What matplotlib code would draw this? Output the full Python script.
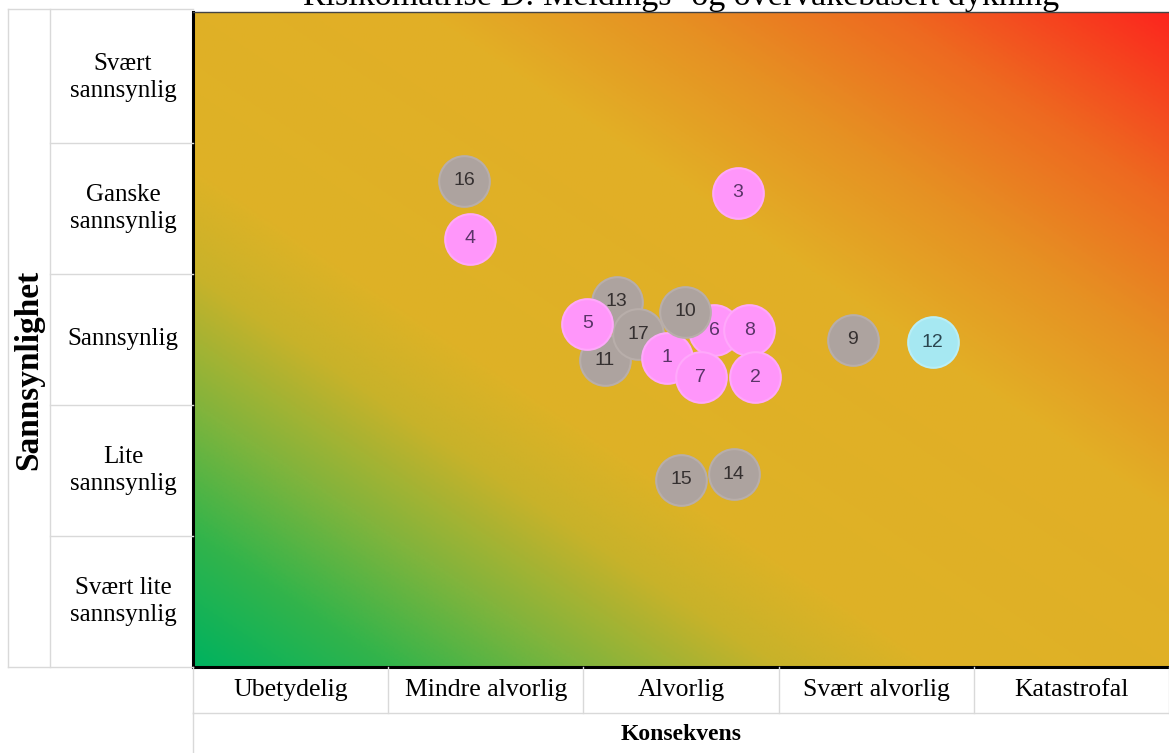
import numpy as np
import matplotlib
matplotlib.use("Agg")
import matplotlib.pyplot as plt
from matplotlib.lines import Line2D
from matplotlib.transforms import blended_transform_factory
from matplotlib.colors import LinearSegmentedColormap

# ---------------- data ----------------
title = "Risikomatrise D: Meldings- og overvåkebasert dykning"
consequence_labels = ["Ubetydelig", "Mindre alvorlig", "Alvorlig", "Svært alvorlig", "Katastrofal"]
likelihood_labels = ["Svært lite\nsannsynlig", "Lite\nsannsynlig", "Sannsynlig",
                     "Ganske\nsannsynlig", "Svært\nsannsynlig"]
x_title = "Konsekvens"
y_title = "Sannsynlighet"

ids = [1, 2, 3, 4, 5, 6, 7, 8, 9, 10, 11, 12, 13, 14, 15, 16, 17]
consequence = [2.43, 2.88, 2.79, 1.42, 2.02, 2.67, 2.60, 2.85, 3.38, 2.52,
               2.11, 3.79, 2.17, 2.77, 2.50, 1.39, 2.28]
likelihood = [2.36, 2.21, 3.62, 3.27, 2.62, 2.57, 2.21, 2.57, 2.50, 2.71,
              2.34, 2.48, 2.79, 1.47, 1.43, 3.71, 2.54]
group = ["A", "A", "A", "A", "A", "A", "A", "A", "B", "B",
         "B", "C", "B", "B", "B", "B", "B"]
draw_order = [16, 4, 3, 13, 11, 17, 5, 1, 6, 8, 10, 7, 2, 9, 12, 15, 14]

# ---------------- styles ----------------
face = {"A": "#FF96FA", "B": "#ADA39F", "C": "#A6E8F2"}
edge = {"A": "#FFA8FB", "B": "#B8AEAA", "C": "#B8EEF6"}
txtc = {"A": "#5A3468", "B": "#353030", "C": "#2A4650"}

W, H = 1169, 753
fig = plt.figure(figsize=(W / 100, H / 100), dpi=100)
fig.patch.set_facecolor("white")

def fx(px):
    return px / W

def fy(py):
    return 1 - py / H

ax_l, ax_r, ax_t, ax_b = 193, 1169, 12, 667
ax = fig.add_axes([fx(ax_l), fy(ax_b), fx(ax_r - ax_l), (ax_b - ax_t) / H])

nx, ny = len(consequence_labels), len(likelihood_labels)
ax.set_xlim(0, nx)
ax.set_ylim(0, ny)

# diagonal gradient background
stops = [(0.00, (0, 178, 95)), (0.10, (50, 180, 75)), (0.20, (130, 180, 60)),
         (0.30, (200, 178, 42)), (0.38, (222, 178, 38)), (0.62, (226, 175, 38)),
         (0.74, (230, 145, 35)), (0.86, (238, 105, 32)), (1.00, (252, 38, 30))]
cmap = LinearSegmentedColormap.from_list(
    "risk", [(p, tuple(c / 255 for c in col)) for p, col in stops])
u = np.linspace(0, 1, 600)
v = np.linspace(0, 1, 400)
U, V = np.meshgrid(u, v)
T = (U + V) / 2
ax.imshow(T, cmap=cmap, vmin=0, vmax=1, origin="lower", extent=[0, nx, 0, ny],
          aspect="auto", interpolation="bilinear", zorder=0)

# bubbles
for pid in draw_order:
    i = ids.index(pid)
    g = group[i]
    ax.scatter([consequence[i]], [likelihood[i]], s=1330, c=face[g],
               edgecolors=edge[g], linewidths=1.5, zorder=2 + draw_order.index(pid) * 0.01)
    ax.text(consequence[i], likelihood[i], str(pid), ha="center", va="center",
            fontsize=14, color=txtc[g], family="Liberation Sans",
            zorder=2.005 + draw_order.index(pid) * 0.01)

ax.set_xticks([])
ax.set_yticks([])
for s in ["left", "bottom"]:
    ax.spines[s].set_linewidth(2.2)
    ax.spines[s].set_color("black")
ax.spines["top"].set_linewidth(1.0)
ax.spines["top"].set_color("#444444")
ax.spines["right"].set_visible(False)

grid_c = "#d9d9d9"
serif = "Liberation Serif"

# left table
trans_y = blended_transform_factory(fig.transFigure, ax.transData)
tbl_top = 9
fig.add_artist(Line2D([fx(8), fx(8)], [fy(tbl_top), fy(ax_b)], color=grid_c, lw=1))
fig.add_artist(Line2D([fx(50), fx(50)], [fy(tbl_top), fy(ax_b)], color=grid_c, lw=1))
fig.add_artist(Line2D([fx(8), fx(ax_l)], [fy(tbl_top), fy(tbl_top)], color=grid_c, lw=1))
fig.add_artist(Line2D([fx(8), fx(ax_l)], [fy(ax_b), fy(ax_b)], color=grid_c, lw=1))
for k in range(1, ny):
    fig.add_artist(Line2D([fx(50), fx(ax_l)], [k, k], color=grid_c, lw=1, transform=trans_y))
for k, lab in enumerate(likelihood_labels):
    fig.text(fx(123), k + 0.5, lab, transform=trans_y, ha="center", va="center",
             fontsize=18, family=serif, linespacing=1.3)
fig.text(fx(29), fy(370), y_title, rotation=90, ha="center", va="center",
         fontsize=24, fontweight="bold", family=serif)

# bottom table
trans_x = blended_transform_factory(ax.transData, fig.transFigure)
for k in range(0, nx + 1):
    fig.add_artist(Line2D([k, k], [fy(ax_b), fy(713)], color=grid_c, lw=1, transform=trans_x))
fig.add_artist(Line2D([0, 0], [fy(713), fy(H)], color=grid_c, lw=1, transform=trans_x))
fig.add_artist(Line2D([fx(ax_l), fx(W)], [fy(713), fy(713)], color=grid_c, lw=1))
for k, lab in enumerate(consequence_labels):
    fig.text(k + 0.5, fy(690), lab, transform=trans_x, ha="center", va="center",
             fontsize=18.5, family=serif)
fig.text(nx / 2, fy(735), x_title, transform=trans_x, ha="center", va="center",
         fontsize=17, fontweight="bold", family=serif)

# title (partly cut off at the top, as in the reference)
fig.text(nx / 2, fy(5), title, transform=trans_x, ha="center", va="baseline",
         fontsize=24.5, family=serif)

fig.savefig("out.png", dpi=100, facecolor="white")
